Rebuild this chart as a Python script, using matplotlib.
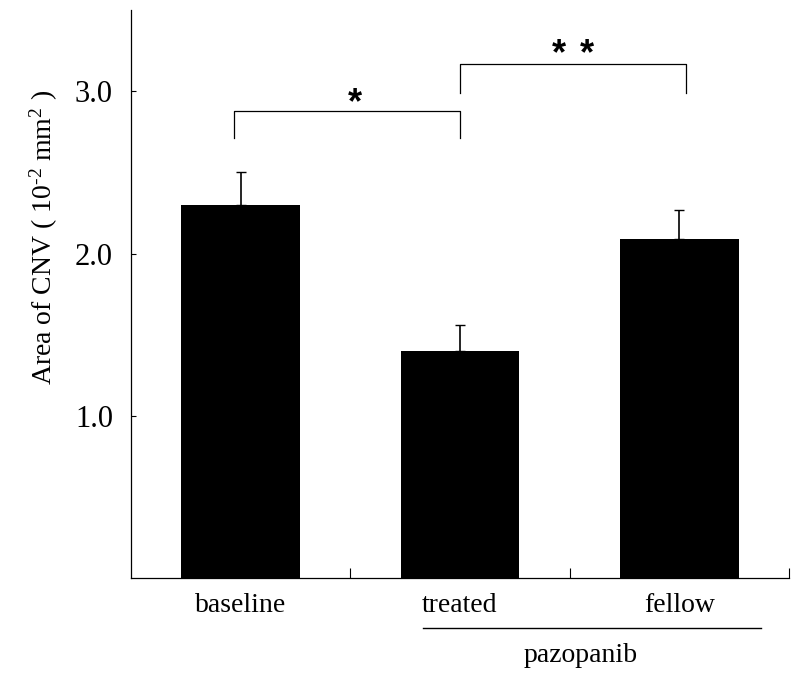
"""Area of CNV bar chart: baseline vs pazopanib treated / fellow eyes."""

import matplotlib
import matplotlib.pyplot as plt
import matplotlib.transforms as mtransforms

matplotlib.use("Agg")

plt.rcParams["font.family"] = ["Liberation Serif", "DejaVu Serif"]
plt.rcParams["mathtext.fontset"] = "custom"
plt.rcParams["mathtext.rm"] = "Liberation Serif"
plt.rcParams["mathtext.it"] = "Liberation Serif:italic"

# ---------------------------------------------------------------------------
# Data
# ---------------------------------------------------------------------------

groups = ["baseline", "treated", "fellow"]
means = [2.30, 1.40, 2.09]
errors = [0.20, 0.16, 0.18]
y_ticks = [1.0, 2.0, 3.0]
y_tick_labels = ["1.0", "2.0", "3.0"]

# significance brackets: (left x, right x, leg bottom, top)
brackets = [
    (-0.03, 1.0, 2.71, 2.877),
    (1.0, 2.03, 2.99, 3.167),
]
# star marks: (x, y baseline) in data units
stars = [(0.521, 2.865), (1.452, 3.165), (1.577, 3.165)]

# ---------------------------------------------------------------------------
# Figure
# ---------------------------------------------------------------------------

fig = plt.figure(figsize=(7.99, 6.78), dpi=100)
ax = fig.add_axes([0.164, 0.1475, 0.8235, 0.8375])

x = list(range(len(groups)))
ax.bar(x, means, width=0.54, color="black", zorder=2)
ax.errorbar(
    x, means,
    yerr=[[0] * len(errors), errors],
    fmt="none", ecolor="black", elinewidth=1.2,
    capsize=3.6, capthick=1.0, zorder=1,
)

ax.set_xlim(-0.5, 2.5)
ax.set_ylim(0, 3.5)

for side in ("top", "right"):
    ax.spines[side].set_visible(False)
for side in ("left", "bottom"):
    ax.spines[side].set_linewidth(0.9)

ax.set_yticks(y_ticks)
ax.set_yticklabels(y_tick_labels)
ax.tick_params(axis="y", direction="in", length=3.6, width=0.8,
               pad=13, labelsize=22)

ax.set_xticks(x)
ax.set_xticklabels(groups)
ax.set_xticks([0.5, 1.5, 2.5], minor=True)
ax.tick_params(axis="x", which="major", length=0, pad=11, labelsize=20)
ax.tick_params(axis="x", which="minor", direction="in", length=7, width=0.8)

ax.set_ylabel(r"Area of CNV ( 10$^{\text{-}2}$ mm$^{2}$ )", fontsize=20)
ax.yaxis.set_label_coords(-0.108, 0.60)

# significance brackets
for x0, x1, yb, yt in brackets:
    ax.plot([x0, x0, x1, x1], [yb, yt, yt, yb], color="black",
            lw=0.9, clip_on=False)
for sx, sy in stars:
    ax.text(sx, sy, "*", ha="center", va="baseline", fontsize=26,
            fontweight="bold", family="Liberation Sans")

# pazopanib group line below the x labels
trans = mtransforms.blended_transform_factory(ax.transData, ax.transAxes)
ax.plot([0.83, 2.373], [-0.088, -0.088], color="black", lw=1.0,
        transform=trans, clip_on=False)
ax.text(1.55, -0.136, "pazopanib", ha="center", va="center",
        fontsize=20, transform=trans)

fig.savefig("out.png", dpi=100)
